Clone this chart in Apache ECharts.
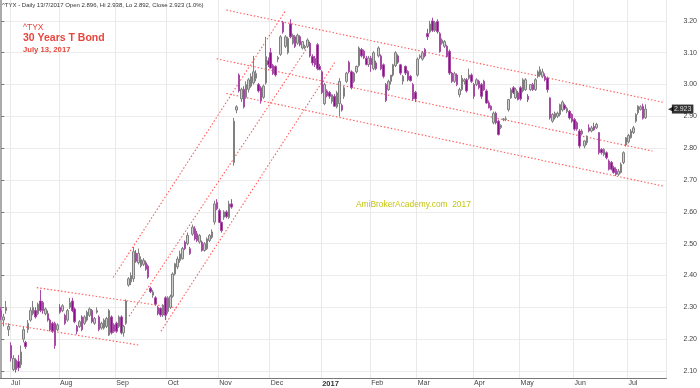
<!DOCTYPE html>
<html><head><meta charset="utf-8">
<script src="https://cdn.jsdelivr.net/npm/echarts@6/dist/echarts.min.js"></script>
<style>html,body{margin:0;padding:0;background:#fff}#c{width:700px;height:388px}</style>
</head><body><div id="c"></div>
<script>
// Daily candles [open, high, low, close], one per trading day from 27 Jun 2016 to 13 Jul 2017
const ohlc = [
[2.29,2.30,2.26,2.27],[2.26,2.28,2.24,2.27],[2.29,2.32,2.28,2.30],[2.23,2.25,2.21,2.24],
[2.18,2.19,2.13,2.14],[2.105,2.15,2.10,2.14],[2.135,2.14,2.095,2.105],[2.13,2.15,2.10,2.11],
[2.12,2.18,2.11,2.16],[2.20,2.24,2.19,2.23],[2.19,2.195,2.17,2.177],[2.23,2.26,2.22,2.25],
[2.26,2.30,2.255,2.29],[2.28,2.32,2.275,2.30],[2.29,2.30,2.265,2.27],[2.28,2.315,2.275,2.31],
[2.32,2.355,2.285,2.29],[2.315,2.32,2.28,2.29],[2.28,2.30,2.275,2.295],[2.28,2.29,2.255,2.26],
[2.26,2.265,2.225,2.23],[2.25,2.255,2.22,2.225],[2.25,2.255,2.17,2.18],[2.23,2.25,2.225,2.245],
[2.30,2.31,2.28,2.285],[2.29,2.31,2.285,2.305],[2.275,2.28,2.245,2.25],[2.26,2.295,2.255,2.29],
[2.30,2.33,2.295,2.315],[2.32,2.33,2.285,2.29],[2.295,2.30,2.25,2.255],[2.24,2.245,2.215,2.225],
[2.24,2.26,2.235,2.255],[2.27,2.275,2.225,2.23],[2.25,2.275,2.245,2.27],[2.26,2.29,2.255,2.285],
[2.275,2.30,2.27,2.295],[2.29,2.295,2.25,2.255],[2.25,2.27,2.245,2.265],[2.285,2.30,2.28,2.29],
[2.27,2.275,2.225,2.23],[2.235,2.255,2.23,2.25],[2.235,2.265,2.23,2.26],[2.24,2.27,2.235,2.265],
[2.213,2.295,2.21,2.29],[2.27,2.275,2.215,2.22],[2.245,2.25,2.22,2.225],[2.25,2.255,2.22,2.225],
[2.24,2.275,2.235,2.27],[2.27,2.275,2.215,2.22],[2.22,2.245,2.208,2.24],[2.25,2.325,2.245,2.32],
[2.37,2.395,2.365,2.39],[2.38,2.41,2.37,2.40],[2.39,2.49,2.38,2.475],[2.47,2.48,2.44,2.445],
[2.44,2.485,2.435,2.47],[2.43,2.46,2.425,2.45],[2.435,2.455,2.43,2.448],[2.44,2.447,2.415,2.42],
[2.43,2.435,2.39,2.395],[2.36,2.365,2.345,2.35],[2.338,2.355,2.33,2.348],[2.33,2.335,2.305,2.31],
[2.30,2.305,2.275,2.28],[2.297,2.30,2.27,2.276],[2.276,2.31,2.27,2.307],[2.33,2.335,2.26,2.275],
[2.287,2.335,2.28,2.33],[2.30,2.34,2.295,2.335],[2.335,2.41,2.33,2.405],[2.405,2.44,2.40,2.437],
[2.427,2.46,2.42,2.452],[2.447,2.478,2.44,2.468],[2.453,2.49,2.45,2.485],[2.505,2.51,2.48,2.485],
[2.50,2.535,2.495,2.526],[2.484,2.49,2.465,2.469],[2.53,2.56,2.525,2.552],[2.547,2.555,2.51,2.515],
[2.531,2.54,2.505,2.51],[2.505,2.53,2.50,2.526],[2.505,2.51,2.475,2.479],[2.479,2.505,2.475,2.50],
[2.484,2.52,2.48,2.515],[2.51,2.53,2.505,2.526],[2.52,2.545,2.515,2.537],[2.568,2.635,2.56,2.625],
[2.63,2.64,2.605,2.61],[2.604,2.61,2.565,2.567],[2.567,2.57,2.535,2.541],[2.583,2.605,2.575,2.60],
[2.60,2.605,2.58,2.585],[2.583,2.635,2.578,2.625],[2.625,2.64,2.61,2.615],[2.755,2.895,2.745,2.885],
[2.92,2.935,2.91,2.93],[3.03,3.035,2.975,2.98],[2.955,2.99,2.945,2.985],[2.985,2.995,2.925,2.93],
[2.96,3.01,2.955,3.0],[2.985,3.02,2.975,3.015],[2.995,3.035,2.99,3.025],[3.005,3.09,3.0,3.04],
[3.02,3.045,3.01,3.035],[3.0,3.005,2.975,2.98],[2.99,2.995,2.94,2.95],[2.96,3.0,2.955,2.995],
[3.005,3.15,3.0,3.088],[3.075,3.085,3.055,3.062],[3.10,3.115,3.05,3.052],[3.06,3.065,3.03,3.035],
[3.057,3.06,3.025,3.03],[3.08,3.09,3.07,3.085],[3.095,3.155,3.09,3.15],[3.195,3.20,3.16,3.165],
[3.12,3.155,3.115,3.15],[3.10,3.15,3.095,3.145],[3.19,3.205,3.145,3.15],[3.13,3.16,3.125,3.155],
[3.15,3.155,3.115,3.12],[3.13,3.16,3.125,3.155],[3.15,3.155,3.12,3.125],[3.115,3.135,3.11,3.135],
[3.115,3.125,3.11,3.12],[3.12,3.145,3.115,3.14],[3.13,3.135,3.085,3.09],[3.088,3.095,3.06,3.068],
[3.082,3.09,3.055,3.062],[3.125,3.13,3.045,3.05],[3.057,3.065,3.045,3.047],[3.04,3.045,2.97,2.975],
[2.94,3.005,2.935,3.0],[2.98,2.985,2.96,2.965],[2.975,2.98,2.955,2.963],[2.947,2.97,2.94,2.968],
[2.963,2.97,2.93,2.932],[2.93,2.98,2.925,2.974],[2.94,3.02,2.90,3.01],[2.935,2.94,2.915,2.92],
[2.963,2.995,2.955,2.99],[3.01,3.04,3.005,3.036],[3.07,3.075,3.035,3.04],[3.04,3.045,2.985,2.99],
[3.01,3.04,3.005,3.036],[3.04,3.06,3.035,3.057],[3.06,3.12,3.055,3.115],[3.11,3.115,3.085,3.09],
[3.105,3.11,3.08,3.084],[3.083,3.09,3.06,3.063],[3.063,3.09,3.055,3.083],[3.083,3.09,3.04,3.063],
[3.05,3.105,3.045,3.10],[3.068,3.075,3.045,3.05],[3.09,3.12,3.085,3.115],[3.09,3.095,3.045,3.05],
[3.062,3.066,3.02,3.026],[3.0,3.005,2.945,2.95],[2.984,3.015,2.98,3.01],[3.01,3.03,3.0,3.03],
[3.03,3.065,3.025,3.062],[3.06,3.105,3.055,3.10],[3.09,3.095,3.065,3.07],[3.062,3.065,3.03,3.036],
[3.01,3.03,3.0,3.026],[3.057,3.06,3.03,3.036],[3.041,3.045,3.01,3.015],[3.026,3.03,3.01,3.012],
[3.0,3.005,2.95,2.955],[2.975,2.98,2.945,2.955],[3.03,3.085,3.025,3.08],[3.085,3.095,3.08,3.09],
[3.08,3.105,3.075,3.10],[3.11,3.115,3.085,3.09],[3.16,3.175,3.14,3.15],[3.165,3.20,3.16,3.19],
[3.20,3.21,3.165,3.17],[3.17,3.20,3.165,3.195],[3.198,3.205,3.16,3.166],[3.16,3.165,3.10,3.104],
[3.13,3.145,3.125,3.14],[3.12,3.14,3.115,3.135],[3.12,3.125,3.085,3.088],[3.104,3.11,3.03,3.036],
[3.036,3.04,3.005,3.01],[3.01,3.04,3.005,3.034],[3.03,3.035,2.995,3.0],[2.968,2.99,2.96,2.984],
[2.984,3.03,2.98,3.02],[3.01,3.02,3.0,3.015],[3.015,3.02,2.975,2.98],[3.02,3.05,3.015,3.03],
[3.03,3.035,3.005,3.01],[3.0,3.005,2.955,2.963],[3.0,3.02,2.995,3.015],[3.01,3.015,2.985,2.99],
[3.0,3.005,2.955,2.963],[3.01,3.015,2.98,2.984],[2.98,2.985,2.94,2.942],[2.943,2.95,2.925,2.927],
[2.932,2.935,2.918,2.921],[2.88,2.915,2.875,2.91],[2.91,2.915,2.875,2.88],[2.885,2.89,2.84,2.843],
[2.865,2.875,2.86,2.872],[2.89,2.895,2.885,2.892],[2.89,2.90,2.885,2.893],[2.921,2.955,2.915,2.953],
[2.958,2.99,2.955,2.984],[2.99,2.995,2.97,2.974],[2.958,2.99,2.955,2.984],[2.974,2.98,2.95,2.953],
[2.99,2.995,2.95,2.955],[2.98,3.02,2.975,3.015],[2.984,3.02,2.98,3.015],[2.963,2.97,2.945,2.953],
[2.984,3.0,2.98,3.0],[3.0,3.005,2.98,2.984],[2.984,3.02,2.98,3.015],[3.026,3.045,3.02,3.04],
[3.03,3.057,3.025,3.047],[3.026,3.05,3.02,3.04],[3.026,3.035,3.01,3.015],[3.02,3.025,2.975,2.984],
[2.958,2.96,2.89,2.895],[2.885,2.91,2.88,2.906],[2.895,2.915,2.89,2.91],[2.90,2.915,2.895,2.91],
[2.906,2.94,2.90,2.937],[2.92,2.95,2.915,2.945],[2.935,2.94,2.92,2.925],[2.915,2.93,2.91,2.925],
[2.916,2.92,2.89,2.895],[2.906,2.91,2.88,2.885],[2.89,2.895,2.855,2.86],[2.88,2.885,2.855,2.86],
[2.854,2.86,2.80,2.807],[2.845,2.86,2.84,2.854],[2.807,2.825,2.80,2.823],[2.817,2.84,2.81,2.838],
[2.864,2.875,2.85,2.854],[2.854,2.87,2.85,2.864],[2.868,2.88,2.855,2.858],[2.864,2.88,2.86,2.875],
[2.849,2.85,2.78,2.786],[2.796,2.80,2.78,2.786],[2.78,2.80,2.775,2.796],[2.786,2.79,2.765,2.77],
[2.76,2.765,2.73,2.734],[2.755,2.76,2.73,2.734],[2.739,2.745,2.72,2.724],[2.734,2.74,2.713,2.718],
[2.718,2.735,2.713,2.728],[2.724,2.755,2.72,2.75],[2.755,2.79,2.75,2.786],[2.81,2.835,2.805,2.833],
[2.82,2.845,2.815,2.84],[2.833,2.86,2.83,2.854],[2.849,2.87,2.845,2.864],[2.885,2.91,2.88,2.906],
[2.911,2.935,2.905,2.932],[2.922,2.935,2.918,2.93],[2.932,2.94,2.89,2.894],[2.896,2.938,2.892,2.923]
];
const firstDay = '2016-06-27';
const lastDay = '2017-07-13';
const holidays = ['2016-07-04','2016-09-05','2016-11-24','2016-12-26','2017-01-02','2017-01-16','2017-02-20','2017-04-14','2017-05-29','2017-07-04'];
const emptySlots = 8;
const monthNames = ['2017','Feb','Mar','Apr','May','Jun','Jul','Aug','Sep','Oct','Nov','Dec'];
const yTicks = [2.10,2.20,2.30,2.40,2.50,2.60,2.70,2.80,2.90,3.00,3.10,3.20];
// trend channels: [[dayIndex, value],[dayIndex, value]]
const trendLines = [
  [[14.5,2.362],[72.5,2.297]],
  [[0.3,2.250],[56.7,2.181]],
  [[45.7,2.394],[116.2,3.234]],
  [[52.2,2.272],[125.2,3.119]],
  [[65.2,2.225],[136.1,3.069]],
  [[91.9,3.234],[270.3,2.944]],
  [[87.9,3.081],[265.8,2.791]],
  [[91.9,2.972],[270.3,2.681]]
];
const lastClose = 2.923;
const headerText = '^TYX - Daily 13/7/2017 Open 2.896, Hi 2.938, Lo 2.892, Close 2.923 (1.0%)';

// build trading-day categories
const cats = [];
const fmt = d => d.toISOString().slice(0,10);
for (let d = new Date(firstDay+'T00:00:00Z'); fmt(d) <= lastDay; d.setUTCDate(d.getUTCDate()+1)) {
  const wd = d.getUTCDay();
  if (wd === 0 || wd === 6) continue;
  if (holidays.includes(fmt(d))) continue;
  cats.push(fmt(d));
}
for (let i = 0; i < emptySlots; i++) cats.push('');
const labelAt = {};
for (let i = 1; i < cats.length; i++) {
  if (cats[i] && cats[i].slice(5,7) !== cats[i-1].slice(5,7)) {
    labelAt[i] = monthNames[parseInt(cats[i].slice(5,7),10)-1];
  }
}
const isStart = i => labelAt[i] !== undefined;
const nCat = cats.length;

const font = 'Liberation Sans, Arial, sans-serif';
const red = '#e8453c';
const chart = echarts.init(document.getElementById('c'));
chart.setOption({
  animation: false,
  textStyle: {fontFamily: font},
  title: [
    {text: headerText, left: 2, top: 2, padding: 0, textStyle: {fontSize: 6, fontWeight: 'normal', color: '#333', fontFamily: font}},
    {text: '^TYX', left: 23, top: 23, padding: 0, textStyle: {fontSize: 8.5, fontWeight: 'normal', color: red, fontFamily: font}},
    {text: '30 Years T Bond', left: 23, top: 33, padding: 0, textStyle: {fontSize: 10.5, fontWeight: 'bold', color: red, fontFamily: font}},
    {text: 'July 13, 2017', left: 23, top: 46, padding: 0, textStyle: {fontSize: 7.7, fontWeight: 'bold', color: red, fontFamily: font}},
    {text: 'AmiBrokerAcademy.com  2017', left: 356, top: 201, padding: 0, textStyle: {fontSize: 8.4, fontWeight: 'normal', color: '#c6c612', fontFamily: font}}
  ],
  grid: {left: 0, right: 30, top: 0, bottom: 8},
  xAxis: [
    {type: 'category', data: cats, boundaryGap: true,
     axisLine: {lineStyle: {color: '#777', width: 1}},
     axisTick: {interval: (i) => isStart(i), length: 3, lineStyle: {color: '#555'}},
     axisLabel: {interval: (i) => isStart(i), formatter: (v, i) => labelAt[i] === '2017' ? '{b|2017}' : (labelAt[i] || ''),
       align: 'left', fontSize: 7, color: '#444', margin: 2,
       rich: {b: {fontWeight: 'bold', fontSize: 7.5, color: '#333'}}},
     splitLine: {show: true, interval: (i) => isStart(i), lineStyle: {color: '#e9e9e9'}}},
    {type: 'value', show: false, min: -0.5, max: nCat - 0.5}
  ],
  yAxis: {type: 'value', position: 'right', min: 2.10 - 7/320, max: 3.20 + 21/320,
    axisLine: {show: true, lineStyle: {color: '#aaaaaa', width: 2}},
    axisTick: {show: true, customValues: yTicks, length: 3, lineStyle: {color: '#777'}},
    axisLabel: {customValues: yTicks, formatter: v => v.toFixed(2), fontSize: 7, color: '#444', margin: 17},
    splitLine: {show: true, lineStyle: {color: '#ececec'}}},
  series: [
    ...trendLines.map(seg => ({type: 'line', xAxisIndex: 1, data: seg, symbol: 'none', silent: true,
      lineStyle: {type: [1.5, 2], color: '#ff5c5c', width: 1.1}, z: 1})),
    {type: 'candlestick', xAxisIndex: 0, data: ohlc.map(r => [r[0], r[3], r[2], r[1]]), barWidth: 2, z: 3,
     itemStyle: {color: '#cfcfcf', color0: '#8b0f8b', borderColor: '#808080', borderColor0: '#a64aa6', borderWidth: 1}},
    {type: 'scatter', xAxisIndex: 1, data: [[nCat - 0.5, lastClose]], symbolSize: 1, silent: true, clip: false, z: 10,
     itemStyle: {color: 'rgba(0,0,0,0)'},
     label: {show: true, position: 'right', distance: 1,
       formatter: '{a|◀}{b|' + lastClose.toFixed(3) + '}',
       rich: {a: {color: '#000', fontSize: 7, padding: [0, -1, 0, 0]}, b: {backgroundColor: '#000', color: '#fff', fontSize: 7, padding: [1, 2, 1, 2]}}}}
  ]
});
</script></body></html>
